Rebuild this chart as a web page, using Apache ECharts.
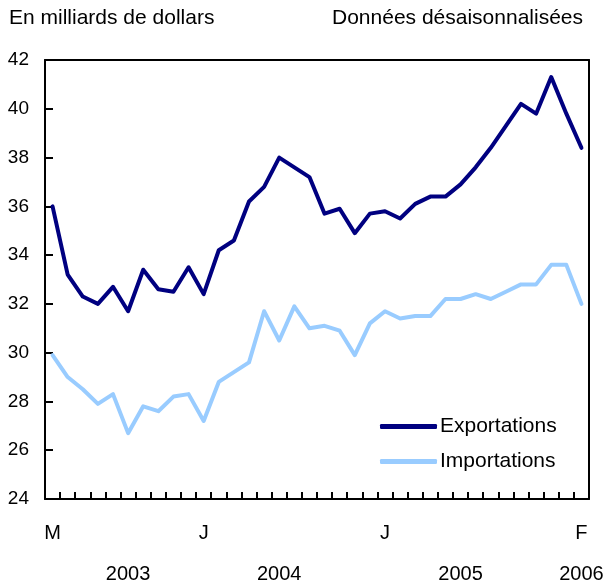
<!DOCTYPE html>
<html>
<head>
<meta charset="utf-8">
<script src="https://cdn.jsdelivr.net/npm/echarts@6/dist/echarts.min.js"></script>
<style>
html,body{margin:0;padding:0;background:#fff;}
#chart{width:608px;height:584px;}
</style>
</head>
<body>
<div id="chart"></div>
<script>
// Months, March 2003 to February 2006
var months = [
  '2003-03','2003-04','2003-05','2003-06','2003-07','2003-08','2003-09','2003-10','2003-11','2003-12',
  '2004-01','2004-02','2004-03','2004-04','2004-05','2004-06','2004-07','2004-08','2004-09','2004-10','2004-11','2004-12',
  '2005-01','2005-02','2005-03','2005-04','2005-05','2005-06','2005-07','2005-08','2005-09','2005-10','2005-11','2005-12',
  '2006-01','2006-02'
];
// French month initials
var monthInitials = ['J','F','M','A','M','J','J','A','S','O','N','D'];

// Exportations (billions of dollars)
var exportations = [
  36.0, 33.2, 32.3, 32.0, 32.7, 31.7, 33.4, 32.6, 32.5, 33.5,
  32.4, 34.2, 34.6, 36.2, 36.8, 38.0, 37.6, 37.2, 35.7, 35.9, 34.9, 35.7,
  35.8, 35.5, 36.1, 36.4, 36.4, 36.9, 37.6, 38.4, 39.3, 40.2, 39.8, 41.3,
  39.8, 38.4
];
// Importations (billions of dollars)
var importations = [
  29.9, 29.0, 28.5, 27.9, 28.3, 26.7, 27.8, 27.6, 28.2, 28.3,
  27.2, 28.8, 29.2, 29.6, 31.7, 30.5, 31.9, 31.0, 31.1, 30.9, 29.9, 31.2,
  31.7, 31.4, 31.5, 31.5, 32.2, 32.2, 32.4, 32.2, 32.5, 32.8, 32.8, 33.6,
  33.6, 32.0
];

var yTickMin = 24, yTickMax = 42, yTickStep = 2;

var seriesNames = ['Exportations','Importations'];
var seriesColors = ['#000080','#99CCFF'];

var FONT = '"Liberation Sans", Arial, Helvetica, sans-serif';
// month indices under which each year label is written
var yearLabelIdx = [5, 15, 27, 35];

var last = months.length - 1;
function frame() { return {show: true, lineStyle: {color: '#000', width: 2}}; }
function off() { return {show: false}; }

var chart = echarts.init(document.getElementById('chart'), null, {renderer:'canvas'});
chart.setOption({
  animation: false,
  backgroundColor: '#ffffff',
  title: [
    {text: 'En milliards de dollars', left: 4, top: 3,
     textStyle: {fontFamily: FONT, fontSize: 21, fontWeight: 'normal', color: '#000'}},
    {text: 'Données désaisonnalisées', right: 20, top: 3,
     textStyle: {fontFamily: FONT, fontSize: 21, fontWeight: 'normal', color: '#000'}}
  ],
  legend: {
    orient: 'vertical',
    left: 375, top: 411,
    itemWidth: 57, itemHeight: 5,
    itemGap: 14,
    icon: 'roundRect',
    textStyle: {fontFamily: FONT, fontSize: 21, color: '#000', lineHeight: 21, padding: [0,0,0,-2]},
    data: seriesNames
  },
  grid: [
    {left: 45, right: 19, top: 60, bottom: 85},          // main plot
    {left: 45, right: 19, top: 492, height: 7},          // inward month ticks
    {left: 45, width: 8, top: 60, bottom: 85}            // inward value ticks
  ],
  xAxis: [
    {
      type: 'category', gridIndex: 0,
      data: months,
      boundaryGap: true,
      axisLine: frame(),
      axisTick: off(),
      axisLabel: {
        interval: function (idx, val) {
          return idx === 0 || idx === last || (val.slice(5) === '01' && idx < last - 1);
        },
        formatter: function (val) {
          return monthInitials[parseInt(val.slice(5), 10) - 1];
        },
        fontFamily: FONT, fontSize: 20, color: '#000', margin: 24
      },
      splitLine: off()
    },
    {
      type: 'category', gridIndex: 0,
      data: months,
      boundaryGap: true,
      position: 'bottom',
      axisLine: off(),
      axisTick: off(),
      splitLine: off(),
      axisLabel: {
        interval: function (idx) { return yearLabelIdx.indexOf(idx) >= 0; },
        formatter: function (val) { return val.slice(0, 4); },
        fontFamily: FONT, fontSize: 20, color: '#000', margin: 65
      }
    },
    {
      type: 'category', gridIndex: 0,
      data: months,
      position: 'top',
      axisLine: frame(),
      axisTick: off(),
      axisLabel: off(),
      splitLine: off()
    },
    {
      type: 'category', gridIndex: 1,
      data: months,
      boundaryGap: true,
      axisLine: off(),
      axisTick: off(),
      axisLabel: off(),
      splitLine: {show: true, interval: 0, lineStyle: {color: '#000', width: 2, type: 'solid'}}
    },
    {
      type: 'value', gridIndex: 2, min: 0, max: 1,
      axisLine: off(), axisTick: off(), axisLabel: off(), splitLine: off()
    }
  ],
  yAxis: [
    {
      type: 'value', gridIndex: 0,
      min: yTickMin, max: yTickMax, interval: yTickStep,
      axisLine: frame(),
      axisTick: off(),
      axisLabel: {fontFamily: FONT, fontSize: 19, color: '#000', margin: 16},
      splitLine: off()
    },
    {
      type: 'value', gridIndex: 0,
      position: 'right',
      min: yTickMin, max: yTickMax, interval: yTickStep,
      axisLine: frame(),
      axisTick: off(),
      axisLabel: off(),
      splitLine: off()
    },
    {
      type: 'value', gridIndex: 1, min: 0, max: 1,
      axisLine: off(), axisTick: off(), axisLabel: off(), splitLine: off()
    },
    {
      type: 'value', gridIndex: 2,
      min: yTickMin, max: yTickMax, interval: yTickStep,
      axisLine: off(), axisTick: off(), axisLabel: off(),
      splitLine: {show: true, lineStyle: {color: '#000', width: 2, type: 'solid'}}
    }
  ],
  series: [
    {
      name: seriesNames[0], type: 'line', data: exportations,
      xAxisIndex: 0, yAxisIndex: 0,
      symbol: 'none', color: seriesColors[0], z: 5,
      lineStyle: {width: 4, color: seriesColors[0], join: 'round', cap: 'round'}
    },
    {
      name: seriesNames[1], type: 'line', data: importations,
      xAxisIndex: 0, yAxisIndex: 0,
      symbol: 'none', color: seriesColors[1], z: 5,
      lineStyle: {width: 4, color: seriesColors[1], join: 'round', cap: 'round'}
    }
  ]
});
</script>
</body>
</html>
